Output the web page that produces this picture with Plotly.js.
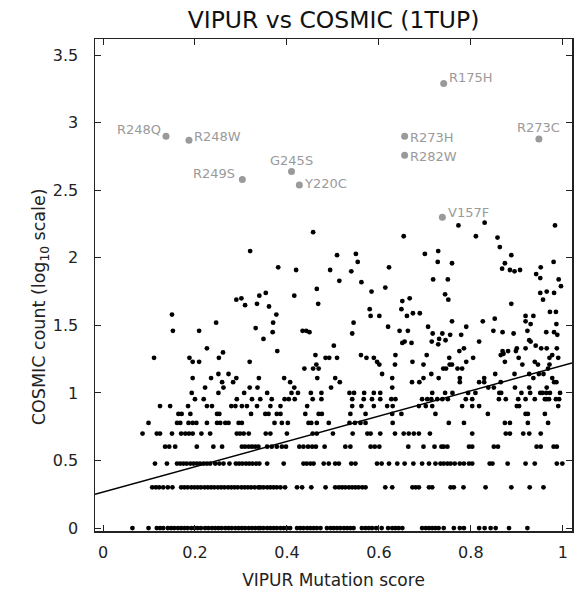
<!DOCTYPE html>
<html>
<head>
<meta charset="utf-8">
<script src="https://cdn.plot.ly/plotly-3.0.1.min.js"></script>
<style>html,body{margin:0;padding:0;background:#fff;}#chart{width:574px;height:594px;}</style>
</head>
<body>
<div id="chart"></div>
<script>
// ---- Data (log10 COSMIC count vs VIPUR mutation score) ----
// Discrete low-count rows: x positions for each log10 level
var row0X = [0.064,0.099,0.117,0.124,0.131,0.141,0.148,0.155,0.163,0.170,0.177,0.184,0.192,0.199,0.206,0.213,0.222,0.229,0.237,0.244,0.251,0.258,0.266,0.273,0.280,0.288,0.295,0.302,0.309,0.317,0.324,0.331,0.338,
  0.342,0.349,0.357,0.364,0.371,0.378,0.386,0.393,0.400,0.407,0.422,0.429,0.436,0.444,0.451,0.458,0.465,0.473,0.487,0.495,0.502,0.509,0.516,0.524,0.531,0.538,0.545,0.563,0.571,0.578,0.585,0.594,0.606,0.620,0.629,0.636,0.643,0.651,
  0.694,0.702,0.709,0.716,0.723,0.730,0.741,0.763,0.776,0.785,0.818,0.830,0.843,0.854,0.883,0.923];
var row2X = [0.107,0.115,0.122,0.131,0.141,0.151,0.170,0.177,0.184,0.192,0.199,0.206,0.213,0.221,0.228,0.235,0.242,0.250,0.257,0.264,0.272,0.279,0.286,0.293,0.301,0.308,0.315,0.322,0.330,0.338,
  0.342,0.349,0.357,0.364,0.371,0.378,0.386,0.396,0.422,0.433,0.453,0.484,0.505,0.513,0.520,0.527,0.535,0.542,0.549,0.556,0.564,0.571,0.614,0.629,0.673,0.680,0.687,
  0.709,0.716,0.756,0.763,0.784,0.832,0.888,0.928,0.958];
var row3X = [0.113,0.139,0.161,0.168,0.175,0.182,0.190,0.197,0.204,0.211,0.219,0.226,0.233,0.244,0.253,0.262,0.275,0.289,0.296,0.303,0.311,0.318,0.325,0.333,0.340,
  0.357,0.393,0.436,0.443,0.451,0.458,0.480,0.491,0.505,0.513,0.540,0.549,0.596,0.606,0.622,0.640,0.656,
  0.675,0.694,0.709,0.723,0.734,0.741,0.749,0.756,0.765,0.776,0.785,0.796,0.803,0.841,0.847,0.880,0.919,0.939,0.987,0.999];
var row4X = [0.135,0.144,0.157,0.204,0.240,0.259,0.302,0.309,0.317,0.324,0.331,0.338,
  0.357,0.367,0.378,0.389,0.398,0.427,0.436,0.446,0.455,0.463,0.482,0.527,0.538,0.582,0.591,0.601,0.664,
  0.697,0.721,0.736,0.741,0.749,0.796,0.803,0.850,0.859,0.943,0.952,0.980,0.987];
var row5X = [0.086,0.117,0.124,0.150,0.170,0.179,0.187,0.195,0.214,0.233,0.291,0.298,0.306,0.317,
  0.354,0.364,0.400,0.456,0.465,0.500,0.543,0.575,0.582,0.603,0.635,0.654,0.665,0.676,0.687,
  0.711,0.803,0.876,0.885,0.914,0.927,0.952];
var row6X = [0.099,0.161,0.168,0.186,0.195,0.203,0.226,0.248,0.255,0.266,0.273,0.295,0.302,
  0.373,0.389,0.402,0.447,0.453,0.465,0.491,0.536,0.548,0.560,0.571,0.630,
  0.752,0.785,0.874,0.885,0.924,0.968];
var row7X = [0.164,0.171,0.190,0.248,0.253,0.322,
  0.353,0.360,0.378,0.386,0.440,0.469,0.476,0.538,0.571,0.629,0.649,
  0.723,0.837,0.919,0.924,0.961];
var row8X = [0.124,0.146,0.185,0.226,0.237,0.279,0.288,0.302,0.313,0.335,
  0.364,0.386,0.444,0.542,0.562,0.589,0.618,0.630,0.687,
  0.702,0.716,0.781,0.803,0.818,0.900,0.905,0.990];
var row9X = [0.200,0.219,0.291,0.324,
  0.342,0.367,0.395,0.404,0.417,0.456,0.475,0.542,0.567,0.585,0.603,0.627,0.636,
  0.694,0.705,0.714,0.727,0.738,0.750,0.789,0.803,0.861,0.876,0.903,0.919,0.939,0.961,0.965,0.970,0.985,0.992];
var row10X = [0.193,0.251,0.307,0.357,0.410,0.424,0.452,0.475,0.536,0.546,0.568,0.589,0.603,
  0.716,0.744,0.760,0.794,0.810,0.862,0.866,0.910,0.929,0.951,0.956,0.964,0.972,0.994];
// log10 levels of the rows above (counts 1..10)
var rowLevels = [0, 0.301, 0.477, 0.602, 0.699, 0.778, 0.845, 0.903, 0.954, 1.0];

// Higher-count mutations (x = VIPUR score, y = log10 count)
var hiX = [0.320,0.150,0.152,0.209,0.246,0.290,0.301,0.309,0.335,0.340,0.332,0.111,0.188,0.195,0.209,0.226,0.252,0.261,0.319,0.195,0.235,0.251,0.259,0.273,0.283,0.290,0.222,0.262,0.319,0.336,0.339,
  0.457,0.654,0.509,0.550,0.554,0.381,0.420,0.494,0.540,0.622,0.514,0.562,0.614,0.465,0.584,0.416,0.354,0.361,0.468,0.651,0.667,0.649,0.580,0.377,0.582,0.601,0.674,0.661,0.689,0.370,0.545,0.369,0.434,0.442,0.449,0.542,0.620,0.645,0.663,0.349,0.651,0.656,0.671,0.502,0.379,0.462,0.484,0.492,0.509,0.561,0.573,0.589,0.596,0.601,0.636,0.464,0.457,0.469,0.438,0.635,0.607,0.394,0.407,0.416,0.466,0.505,0.515,0.629,0.629,0.672,0.688,0.496,
  0.773,0.830,0.983,0.811,0.858,0.863,0.700,0.729,0.728,0.759,0.888,0.874,0.868,0.885,0.895,0.907,0.980,0.952,0.942,0.951,0.718,0.750,0.991,0.996,0.744,0.751,0.951,0.965,0.981,0.957,0.888,0.972,0.985,0.759,0.826,0.852,0.919,0.936,0.919,0.930,0.986,0.707,0.790,0.849,0.869,0.923,0.964,0.981,0.893,0.988,0.717,0.738,0.731,0.755,0.779,0.715,0.729,0.745,0.818,0.785,0.927,0.930,0.941,0.953,0.965,0.987,0.900,0.919,0.869,0.871,0.865,0.881,0.898,0.904,0.775,0.753,0.790,0.805,0.704,0.697,0.673,0.874,0.912,0.939,0.946,0.971,0.977,0.990,0.971,0.740,0.746,0.754,0.759,0.771,0.781,0.714,0.730,0.697,0.776,0.776,0.818,0.829,0.829,0.853,0.865,0.895,0.927,0.936,0.948,0.958,0.968,0.977,0.981,0.986,0.850,0.838,0.896,0.927,0.965];
var hiY = [2.05,1.58,1.46,1.46,1.52,1.69,1.70,1.65,1.66,1.72,1.48,1.26,1.26,1.23,1.23,1.33,1.26,1.30,1.23,1.11,1.11,1.14,1.08,1.14,1.08,1.11,1.04,1.04,1.04,1.04,1.11,
  2.19,2.16,2.02,2.03,1.97,1.93,1.91,1.91,1.90,1.93,1.83,1.82,1.78,1.77,1.75,1.72,1.74,1.64,1.66,1.68,1.70,1.62,1.62,1.58,1.57,1.57,1.59,1.57,1.59,1.52,1.52,1.45,1.46,1.46,1.45,1.44,1.49,1.46,1.46,1.40,1.37,1.38,1.37,1.35,1.31,1.28,1.26,1.26,1.26,1.28,1.26,1.26,1.23,1.21,1.28,1.21,1.18,1.18,1.18,1.21,1.14,1.11,1.08,1.04,1.11,1.11,1.08,1.11,1.04,1.08,1.08,1.04,
  2.24,2.26,2.24,2.16,2.15,2.08,2.03,2.05,1.97,1.96,2.02,1.96,1.92,1.91,1.90,1.91,1.97,1.93,1.88,1.85,1.84,1.84,1.84,1.79,1.73,1.69,1.74,1.75,1.74,1.69,1.66,1.60,1.60,1.53,1.53,1.55,1.57,1.57,1.53,1.51,1.51,1.49,1.49,1.46,1.45,1.46,1.45,1.45,1.44,1.43,1.44,1.44,1.40,1.43,1.43,1.38,1.36,1.39,1.38,1.33,1.39,1.38,1.35,1.33,1.33,1.33,1.33,1.33,1.31,1.29,1.28,1.31,1.31,1.26,1.31,1.26,1.23,1.26,1.28,1.21,1.23,1.23,1.21,1.23,1.21,1.26,1.28,1.26,1.21,1.18,1.18,1.21,1.21,1.18,1.18,1.14,1.11,1.11,1.11,1.08,1.08,1.11,1.08,1.14,1.08,1.14,1.14,1.11,1.14,1.14,1.18,1.11,1.08,1.08,1.04,1.04,1.04,1.04,1.04];

// Named hotspot mutations (gray)
var hotNames = ['R175H','R248Q','R248W','R249S','G245S','Y220C','R273H','R282W','R273C','V157F'];
var hotX = [0.741,0.137,0.187,0.303,0.410,0.427,0.656,0.656,0.948,0.738];
var hotY = [3.29,2.90,2.87,2.58,2.64,2.54,2.90,2.76,2.88,2.30];

// Regression line end points
var fitX = [-0.0174, 1.02];
var fitY = [0.250, 1.222];

var xTicks = [0, 0.2, 0.4, 0.6, 0.8, 1];
var xTickText = ['0', '0.2', '0.4', '0.6', '0.8', '1'];
var yTicks = [0, 0.5, 1, 1.5, 2, 2.5, 3, 3.5];
var yTickText = ['0', '0.5', '1', '1.5', '2', '2.5', '3', '3.5'];

var titleText = 'VIPUR vs COSMIC (1TUP)';
var xTitleText = 'VIPUR Mutation score';
var yTitleText = 'COSMIC count (log<sub>10</sub> scale)';

// ---- Build ----
var rows = [row0X,row2X,row3X,row4X,row5X,row6X,row7X,row8X,row9X,row10X];
var allX = [], allY = [];
rows.forEach(function(r, i){ r.forEach(function(x){ allX.push(x); allY.push(rowLevels[i]); }); });
hiX.forEach(function(x, i){ allX.push(x); allY.push(hiY[i]); });

var labelStyle = {
  'R175H': {xanchor:'left', xshift:4, yshift:6},
  'R248Q': {xanchor:'right', xshift:-4, yshift:7},
  'R248W': {xanchor:'left', xshift:4, yshift:4},
  'R249S': {xanchor:'right', xshift:-6, yshift:6},
  'G245S': {xanchor:'center', xshift:0, yshift:11},
  'Y220C': {xanchor:'left', xshift:4, yshift:1},
  'R273H': {xanchor:'left', xshift:4, yshift:-1},
  'R282W': {xanchor:'left', xshift:4, yshift:-1},
  'R273C': {xanchor:'center', xshift:0, yshift:11},
  'V157F': {xanchor:'left', xshift:5, yshift:5}
};
var annotations = hotNames.map(function(n, i){
  var s = labelStyle[n];
  return {x: hotX[i], y: hotY[i], xref:'x', yref:'y', text: n, showarrow:false,
    xanchor: s.xanchor, yanchor:'middle', xshift: s.xshift, yshift: s.yshift,
    font:{family:'DejaVu Sans', size:13, color:'#9a9a9a'}, borderpad:0};
});
// y-axis title placed as rotated annotation
annotations.push({x:0, y:0.455, xref:'paper', yref:'paper', text: yTitleText, showarrow:false,
  textangle:-90, xanchor:'center', yanchor:'middle', xshift:-55,
  font:{family:'DejaVu Sans', size:17.5, color:'#222'}});

var traces = [
  {x: allX, y: allY, type:'scatter', mode:'markers', marker:{color:'#000', size:4.8}, hoverinfo:'skip'},
  {x: fitX, y: fitY, type:'scatter', mode:'lines', line:{color:'#000', width:1.4}, hoverinfo:'skip'},
  {x: hotX, y: hotY, type:'scatter', mode:'markers', marker:{color:'#9a9a9a', size:7}, hoverinfo:'skip'}
];

var axisCommon = {
  showline:true, linecolor:'#222', linewidth:1.5, mirror:'ticks',
  ticks:'inside', ticklen:6, tickwidth:1, tickcolor:'#222',
  showgrid:false, zeroline:false,
  tickfont:{family:'DejaVu Sans', size:16, color:'#222'}
};

var layout = {
  width:574, height:594,
  margin:{l:95, r:2, t:39, b:63},
  paper_bgcolor:'#fff', plot_bgcolor:'#fff',
  showlegend:false,
  font:{family:'DejaVu Sans', color:'#222'},
  title:{text: titleText, font:{family:'DejaVu Sans', size:23.5, color:'#111'},
    x:0.5, xref:'paper', xanchor:'center', y:1-20/594, yref:'container', yanchor:'middle'},
  xaxis: Object.assign({}, axisCommon, {
    range:[-0.0174, 1.02], tickmode:'array', tickvals:xTicks, ticktext:xTickText,
    ticklabelstandoff:6,
    title:{text: xTitleText, font:{family:'DejaVu Sans', size:17, color:'#222'}, standoff:13}
  }),
  yaxis: Object.assign({}, axisCommon, {
    range:[-0.022, 3.62], tickmode:'array', tickvals:yTicks, ticktext:yTickText,
    ticklabelstandoff:12
  }),
  annotations: annotations
};

Plotly.newPlot('chart', traces, layout, {displayModeBar:false, staticPlot:true});
</script>
</body>
</html>
